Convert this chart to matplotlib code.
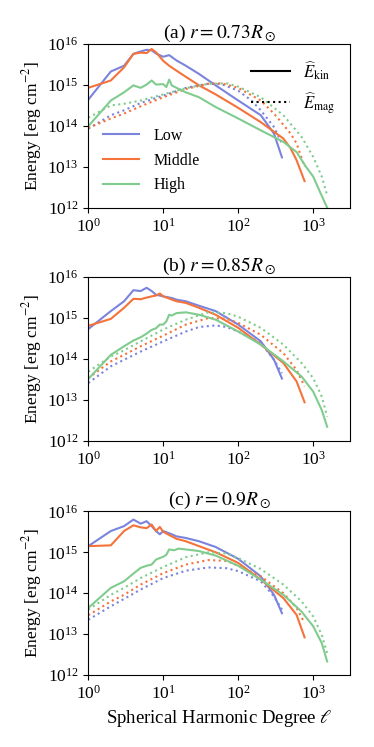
import numpy as np
import matplotlib.pyplot as plt

# --- data: (ell, log10 energy) ---
# panel (a) r = 0.73 Rsun
a_low_kin_l = [1, 2, 3, 4, 5, 6, 7, 8, 10, 12, 15, 20, 30, 50, 100, 200, 300, 383]
a_low_kin_e = [14.64, 15.33, 15.47, 15.76, 15.82, 15.86, 15.85, 15.77, 15.69, 15.73, 15.60, 15.47, 15.27, 14.99, 14.62, 14.26, 13.81, 13.23]
a_mid_kin_l = [1, 2, 3, 4, 5, 6, 7, 8, 10, 12, 15, 20, 30, 50, 100, 200, 400, 500, 600, 767]
a_mid_kin_e = [14.93, 15.11, 15.43, 15.76, 15.79, 15.78, 15.88, 15.80, 15.59, 15.47, 15.35, 15.20, 14.99, 14.77, 14.44, 14.09, 13.69, 13.45, 13.16, 12.65]
a_high_kin_l = [1, 2, 3, 4, 5, 6, 7, 8, 10, 11, 12, 13, 15, 20, 30, 50, 100, 200, 400, 600, 800, 1000, 1200, 1535]
a_high_kin_e = [13.99, 14.62, 14.82, 14.99, 14.93, 15.01, 15.11, 15.01, 15.02, 14.95, 15.13, 14.99, 14.93, 14.82, 14.70, 14.46, 14.18, 13.89, 13.61, 13.36, 13.00, 12.76, 12.43, 12.00]
a_low_mag_l = [1, 2, 3, 5, 10, 20, 40, 60, 100, 150, 200, 300, 383]
a_low_mag_e = [13.93, 14.26, 14.38, 14.56, 14.74, 14.93, 15.03, 15.02, 14.86, 14.62, 14.38, 13.97, 13.57]
a_mid_mag_l = [1, 2, 3, 5, 10, 20, 40, 60, 100, 200, 300, 500, 600, 767]
a_mid_mag_e = [13.95, 14.18, 14.30, 14.48, 14.70, 14.90, 15.03, 15.04, 14.93, 14.62, 14.30, 13.81, 13.57, 13.00]
a_high_mag_l = [1, 2, 3, 5, 10, 20, 40, 70, 100, 200, 400, 700, 1000, 1300, 1535]
a_high_mag_e = [14.20, 14.50, 14.54, 14.62, 14.77, 14.92, 15.03, 15.04, 14.96, 14.70, 14.26, 13.73, 13.24, 12.76, 12.30]

# panel (b) r = 0.85 Rsun
b_low_kin_l = [1, 2, 3, 4, 5, 6, 7, 8, 10, 13, 15, 20, 30, 50, 100, 200, 300, 383]
b_low_kin_e = [14.73, 15.17, 15.41, 15.68, 15.66, 15.74, 15.66, 15.57, 15.53, 15.49, 15.45, 15.41, 15.30, 15.17, 14.84, 14.43, 13.98, 13.52]
b_mid_kin_l = [1, 2, 3, 4, 5, 6, 7, 8, 9, 10, 15, 20, 30, 50, 100, 200, 400, 600, 767]
b_mid_kin_e = [14.81, 14.98, 15.25, 15.47, 15.46, 15.50, 15.53, 15.55, 15.60, 15.53, 15.41, 15.37, 15.25, 15.08, 14.76, 14.35, 13.90, 13.45, 12.94]
b_high_kin_l = [1, 2, 3, 4, 5, 6, 7, 8, 9, 10, 11, 12, 13, 15, 20, 30, 50, 100, 200, 400, 700, 1000, 1300, 1535]
b_high_kin_e = [13.51, 14.10, 14.31, 14.45, 14.53, 14.62, 14.71, 14.75, 14.84, 14.84, 14.92, 15.08, 15.06, 15.12, 15.14, 15.08, 14.96, 14.67, 14.35, 13.94, 13.57, 13.20, 12.75, 12.34]
b_low_mag_l = [1, 2, 3, 5, 10, 20, 30, 50, 70, 100, 200, 300, 383]
b_low_mag_e = [13.41, 13.82, 13.98, 14.18, 14.43, 14.67, 14.78, 14.82, 14.78, 14.67, 14.39, 13.98, 13.65]
b_mid_mag_l = [1, 2, 3, 5, 10, 20, 40, 70, 100, 200, 400, 600, 767]
b_mid_mag_e = [13.53, 13.94, 14.10, 14.31, 14.57, 14.84, 15.00, 14.98, 14.88, 14.59, 14.14, 13.73, 13.33]
b_high_mag_l = [1, 2, 3, 5, 10, 20, 40, 70, 100, 200, 400, 700, 1000, 1300, 1535]
b_high_mag_e = [13.69, 14.06, 14.21, 14.43, 14.72, 14.96, 15.14, 15.12, 15.03, 14.76, 14.35, 13.90, 13.53, 13.08, 12.59]

# panel (c) r = 0.9 Rsun
c_low_kin_l = [1, 2, 3, 4, 5, 6, 7, 8, 9, 10, 13, 15, 20, 30, 50, 100, 200, 300, 383]
c_low_kin_e = [15.15, 15.52, 15.64, 15.80, 15.70, 15.76, 15.64, 15.52, 15.44, 15.52, 15.44, 15.39, 15.35, 15.27, 15.13, 14.84, 14.41, 13.96, 13.51]
c_mid_kin_l = [1, 2, 3, 4, 5, 6, 7, 8, 9, 10, 15, 20, 30, 50, 100, 200, 400, 600, 767]
c_mid_kin_e = [15.15, 15.17, 15.52, 15.66, 15.61, 15.59, 15.68, 15.52, 15.62, 15.50, 15.33, 15.27, 15.15, 15.00, 14.74, 14.33, 13.88, 13.47, 12.92]
c_high_kin_l = [1, 2, 3, 4, 5, 6, 7, 8, 9, 10, 11, 12, 14, 16, 20, 30, 50, 100, 200, 400, 700, 1000, 1300, 1535]
c_high_kin_e = [13.64, 14.13, 14.29, 14.48, 14.62, 14.67, 14.70, 14.82, 14.86, 14.89, 14.94, 15.07, 15.05, 15.09, 15.07, 15.03, 14.92, 14.67, 14.33, 13.96, 13.55, 13.19, 12.78, 12.33]
c_low_mag_l = [1, 2, 3, 5, 10, 20, 40, 70, 100, 200, 300, 383]
c_low_mag_e = [13.35, 13.68, 13.86, 14.09, 14.37, 14.55, 14.63, 14.61, 14.54, 14.29, 13.92, 13.60]
c_mid_mag_l = [1, 2, 3, 5, 10, 20, 40, 70, 100, 200, 400, 600, 767]
c_mid_mag_e = [13.46, 13.80, 13.96, 14.21, 14.49, 14.70, 14.81, 14.79, 14.67, 14.41, 14.00, 13.64, 13.27]
c_high_mag_l = [1, 2, 3, 5, 10, 20, 40, 70, 100, 200, 400, 700, 1000, 1300, 1535]
c_high_mag_e = [13.60, 13.96, 14.13, 14.37, 14.64, 14.88, 15.00, 14.97, 14.86, 14.59, 14.21, 13.80, 13.43, 12.98, 12.53]

titles = [r"(a) $r=0.73R_\odot$", r"(b) $r=0.85R_\odot$", r"(c) $r=0.9R_\odot$"]
group_names = ["Low", "Middle", "High"]
colors = ["#7b84dc", "#f5733a", "#80cc8e"]

panels = [
    [(a_low_kin_l, a_low_kin_e, a_low_mag_l, a_low_mag_e),
     (a_mid_kin_l, a_mid_kin_e, a_mid_mag_l, a_mid_mag_e),
     (a_high_kin_l, a_high_kin_e, a_high_mag_l, a_high_mag_e)],
    [(b_low_kin_l, b_low_kin_e, b_low_mag_l, b_low_mag_e),
     (b_mid_kin_l, b_mid_kin_e, b_mid_mag_l, b_mid_mag_e),
     (b_high_kin_l, b_high_kin_e, b_high_mag_l, b_high_mag_e)],
    [(c_low_kin_l, c_low_kin_e, c_low_mag_l, c_low_mag_e),
     (c_mid_kin_l, c_mid_kin_e, c_mid_mag_l, c_mid_mag_e),
     (c_high_kin_l, c_high_kin_e, c_high_mag_l, c_high_mag_e)],
]

plt.rcParams['font.family'] = 'serif'
plt.rcParams['font.serif'] = ['Liberation Serif', 'DejaVu Serif']
plt.rcParams['mathtext.fontset'] = 'stix'

fig = plt.figure(figsize=(3.74, 7.47), dpi=100)
bottoms = [0.722, 0.410, 0.0964]

for i, curves in enumerate(panels):
    ax = fig.add_axes([0.236, bottoms[i], 0.700, 0.219])
    for (kl, ke, ml, me), col, name in zip(curves, colors, group_names):
        ax.plot(kl, 10 ** np.array(ke), color=col, lw=1.5, label=name)
        ax.plot(ml, 10 ** np.array(me), color=col, lw=1.5, ls=':')
    ax.set_xscale('log')
    ax.set_yscale('log')
    ax.set_xlim(1, 3100)
    ax.set_ylim(1e12, 1e16)
    ax.minorticks_off()
    ax.set_yticks([1e12, 1e13, 1e14, 1e15, 1e16])
    ax.tick_params(labelsize=12.5)
    ax.set_ylabel(r"Energy [erg cm$^{-2}$]", fontsize=12.5, labelpad=2)
    ax.set_title(titles[i], fontsize=14, pad=4)
    if i == 0:
        leg1 = ax.legend(loc='lower left', frameon=False, fontsize=11.5,
                         bbox_to_anchor=(0.0, 0.0), handlelength=2.3, handletextpad=0.9,
                         labelspacing=0.55)
        h_kin, = ax.plot([], [], color='k', lw=1.5)
        h_mag, = ax.plot([], [], color='k', lw=1.5, ls=':')
        ax.legend([h_kin, h_mag], [r"$\widehat{E}_{\rm kin}$", r"$\widehat{E}_{\rm mag}$"],
                  loc='upper right', frameon=False, fontsize=12, handlelength=2.3,
                  handletextpad=0.8)
        ax.add_artist(leg1)
    if i == 2:
        ax.set_xlabel(r"Spherical Harmonic Degree $\ell$", fontsize=13.5)

plt.savefig('out.png', dpi=100)
